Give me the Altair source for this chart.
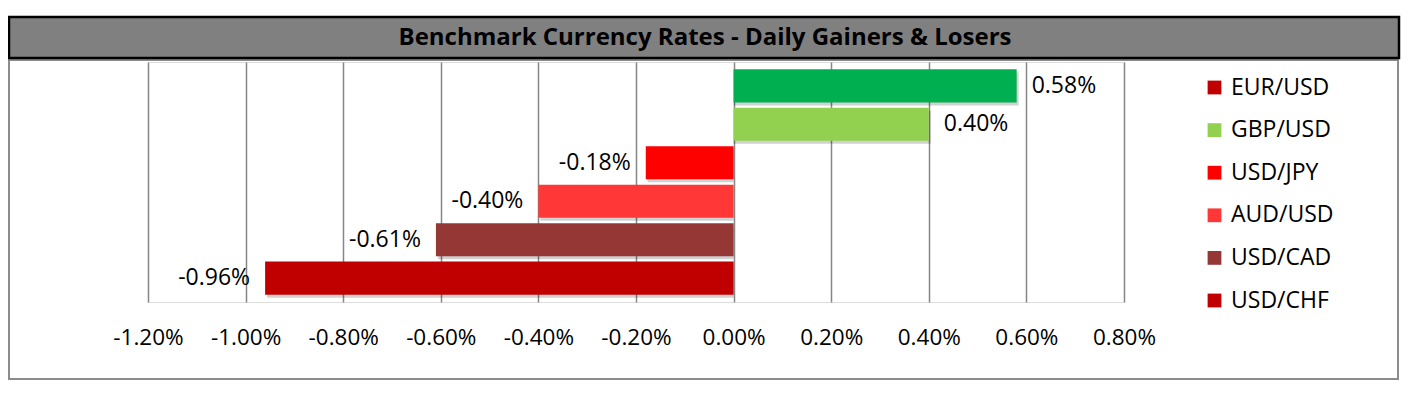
import altair as alt
import pandas as pd

# ---- data ----
pairs = ["EUR/USD", "GBP/USD", "USD/JPY", "AUD/USD", "USD/CAD", "USD/CHF"]
changes_pct = [0.58, 0.40, -0.18, -0.40, -0.61, -0.96]
bar_colors = ["#00B050", "#92D050", "#FF0000", "#FF3737", "#953735", "#C00000"]
legend_colors = ["#C00000", "#92D050", "#FF0000", "#FF3737", "#953735", "#C00000"]
tick_values = [-0.012, -0.010, -0.008, -0.006, -0.004, -0.002, 0.0, 0.002, 0.004, 0.006, 0.008]
title_text = "Benchmark Currency Rates - Daily Gainers & Losers"

FONT = "Open Sans"
W, H = 976, 240
FMT = "replace(format(datum.value, '.2%'), '\u2212', '-')"

df = pd.DataFrame({
    "pair": pairs,
    "value": [v / 100 for v in changes_pct],
    "bar_color": bar_colors,
})
one = pd.DataFrame({"t": [title_text]})

x_enc = alt.X("value:Q",
              scale=alt.Scale(domain=[tick_values[0], tick_values[-1]], nice=False, zero=False),
              axis=alt.Axis(values=tick_values, labelExpr=FMT, title=None, grid=True,
                            gridColor="#868686", gridWidth=1.5, ticks=False, domain=False,
                            labelFont=FONT, labelFontSize=22.5, labelColor="#000000",
                            labelPadding=24, labelOverlap=False, labelFlush=False))
y_enc = alt.Y("pair:N", sort=pairs,
              scale=alt.Scale(paddingInner=0.14, paddingOuter=0.19),
              axis=None)

outer_box = alt.Chart(one).mark_rect(fill="transparent", stroke="#8C8C8C", strokeWidth=2).encode(
    x=alt.value(-139), x2=alt.value(1250), y=alt.value(-2), y2=alt.value(317))

title_bar = alt.Chart(one).mark_rect(fill="#808080", stroke="#000000", strokeWidth=2.5).encode(
    x=alt.value(-139), x2=alt.value(1251), y=alt.value(-45), y2=alt.value(-4))

title = alt.Chart(one).mark_text(font=FONT, fontSize=24, fontWeight="bold", color="#000000",
                                 align="center", baseline="middle").encode(
    x=alt.value(557), y=alt.value(-24), text="t:N")

shadow = alt.Chart(df).mark_bar(color="#000000", opacity=0.18, xOffset=2, yOffset=3).encode(
    x=x_enc, x2=alt.datum(0), y=y_enc)

bars = alt.Chart(df).mark_bar().encode(
    x=x_enc, x2=alt.datum(0), y=y_enc,
    color=alt.Color("bar_color:N", scale=None))

legend_layer = alt.Chart(df).mark_square(opacity=0).encode(
    color=alt.Color("pair:N",
                    scale=alt.Scale(domain=pairs, range=legend_colors),
                    sort=pairs,
                    legend=alt.Legend(title=None, orient="none", legendX=1055, legendY=14,
                                      symbolType="square", symbolSize=190, symbolOpacity=1,
                                      symbolStrokeWidth=0,
                                      labelFont=FONT, labelFontSize=23, labelColor="#000000",
                                      labelOffset=5, rowPadding=18.6, padding=0)))

pos_labels = alt.Chart(df).transform_filter("datum.value >= 0").transform_calculate(
    lbl=FMT).mark_text(
    font=FONT, fontSize=23, align="left", baseline="middle", dx=15, color="#000000").encode(
    x=x_enc, y=y_enc, text="lbl:N")

neg_labels = alt.Chart(df).transform_filter("datum.value < 0").transform_calculate(
    lbl=FMT).mark_text(
    font=FONT, fontSize=23, align="right", baseline="middle", dx=-15, color="#000000").encode(
    x=x_enc, y=y_enc, text="lbl:N")

chart = alt.layer(outer_box, title_bar, title, shadow, bars, legend_layer, pos_labels, neg_labels).properties(
    width=W, height=H,
    autosize=alt.AutoSizeParams(type="none"),
    padding={"left": 140, "top": 54, "right": 284, "bottom": 84},
).configure_view(stroke="#868686", strokeWidth=1.5).configure(background="white")

chart.save("out.html", embed_options={"renderer": "svg", "actions": False})
